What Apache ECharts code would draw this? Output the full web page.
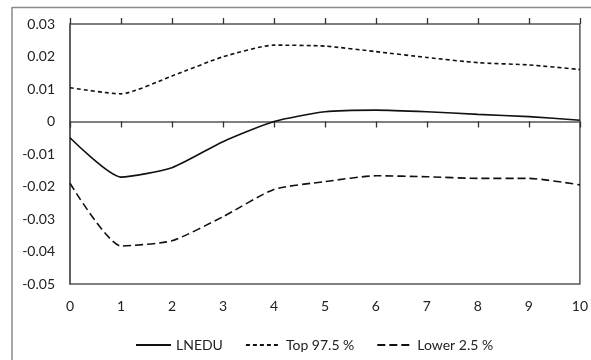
<!DOCTYPE html>
<html>
<head>
<meta charset="utf-8">
<script src="https://cdn.jsdelivr.net/npm/echarts@6/dist/echarts.min.js"></script>
<style>html,body{margin:0;padding:0;background:#fff}#c{width:591px;height:360px}</style>
</head>
<body>
<div id="c"></div>
<script>
const periods = [0,1,2,3,4,5,6,7,8,9,10];
const lnedu = [-0.005,-0.0171,-0.0142,-0.0062,0.0,0.003,0.0035,0.003,0.0022,0.0015,0.0004];
const top975 = [0.0104,0.0085,0.014,0.0199,0.0235,0.0232,0.0215,0.0197,0.0181,0.0174,0.016];
const lower25 = [-0.019,-0.0383,-0.0367,-0.0293,-0.0209,-0.0185,-0.0167,-0.017,-0.0175,-0.0175,-0.0195];
const seriesNames = ['LNEDU','Top 97.5 %','Lower 2.5 %'];

const font = 'Lato, "Open Sans", sans-serif';
const pair = arr => periods.map((p,i)=>[p,arr[i]]);
const chart = echarts.init(document.getElementById('c'), null, {renderer:'canvas'});
const xBase = {type:'value', min:0, max:10, interval:1, splitLine:{show:false}};
chart.setOption({
  animation:false,
  backgroundColor:'#fff',
  textStyle:{fontFamily:font},
  grid:{left:70, top:24, right:11, bottom:76, show:true, borderColor:'#555', borderWidth:1.5},
  legend:{
    top:333, left:130, itemWidth:35, itemHeight:12, itemGap:22,
    itemStyle:{opacity:0},
    textStyle:{fontFamily:font, fontSize:14, color:'#222'},
    data:seriesNames
  },
  xAxis:[
    Object.assign({}, xBase, {position:'bottom', axisLine:{show:false, onZero:false}, axisTick:{show:false},
      axisLabel:{fontFamily:font, fontSize:14, color:'#222', margin:15}}),
    Object.assign({}, xBase, {position:'bottom', axisLine:{show:true, onZero:true, lineStyle:{color:'#555', width:1.5}},
      axisTick:{show:true, length:6, lineStyle:{color:'#333', width:1.3}}, axisLabel:{show:false}}),
    Object.assign({}, xBase, {position:'top', axisLine:{show:false, onZero:true},
      axisTick:{show:true, length:6, lineStyle:{color:'#333', width:1.3}}, axisLabel:{show:false}})
  ],
  yAxis:{
    type:'value', min:-0.05, max:0.03, interval:0.01,
    axisLine:{show:true, lineStyle:{color:'#555', width:1.5}},
    axisTick:{show:false}, splitLine:{show:false},
    axisLabel:{fontFamily:font, fontSize:14, color:'#222', margin:15,
      formatter:v=>Math.abs(v)<1e-9?'0':v.toFixed(2)}
  },
  series:[
    {name:seriesNames[0], type:'line', data:pair(lnedu), smooth:0.2, symbol:'none', xAxisIndex:0,
      lineStyle:{color:'#111', width:1.6, type:'solid'}, itemStyle:{color:'#111'}},
    {name:seriesNames[1], type:'line', data:pair(top975), smooth:0.2, symbol:'none', xAxisIndex:0,
      lineStyle:{color:'#111', width:1.6, type:[4,3]}, itemStyle:{color:'#111'}},
    {name:seriesNames[2], type:'line', data:pair(lower25), smooth:0.2, symbol:'none', xAxisIndex:0,
      lineStyle:{color:'#111', width:1.6, type:[8,4]}, itemStyle:{color:'#111'}}
  ],
  graphic:[
    {type:'line', shape:{x1:12, y1:7.5, x2:591, y2:7.5}, style:{stroke:'#8a8a8a', lineWidth:1.5}},
    {type:'line', shape:{x1:12, y1:7, x2:12, y2:360}, style:{stroke:'#8a8a8a', lineWidth:1.5}}
  ]
});
</script>
</body>
</html>
